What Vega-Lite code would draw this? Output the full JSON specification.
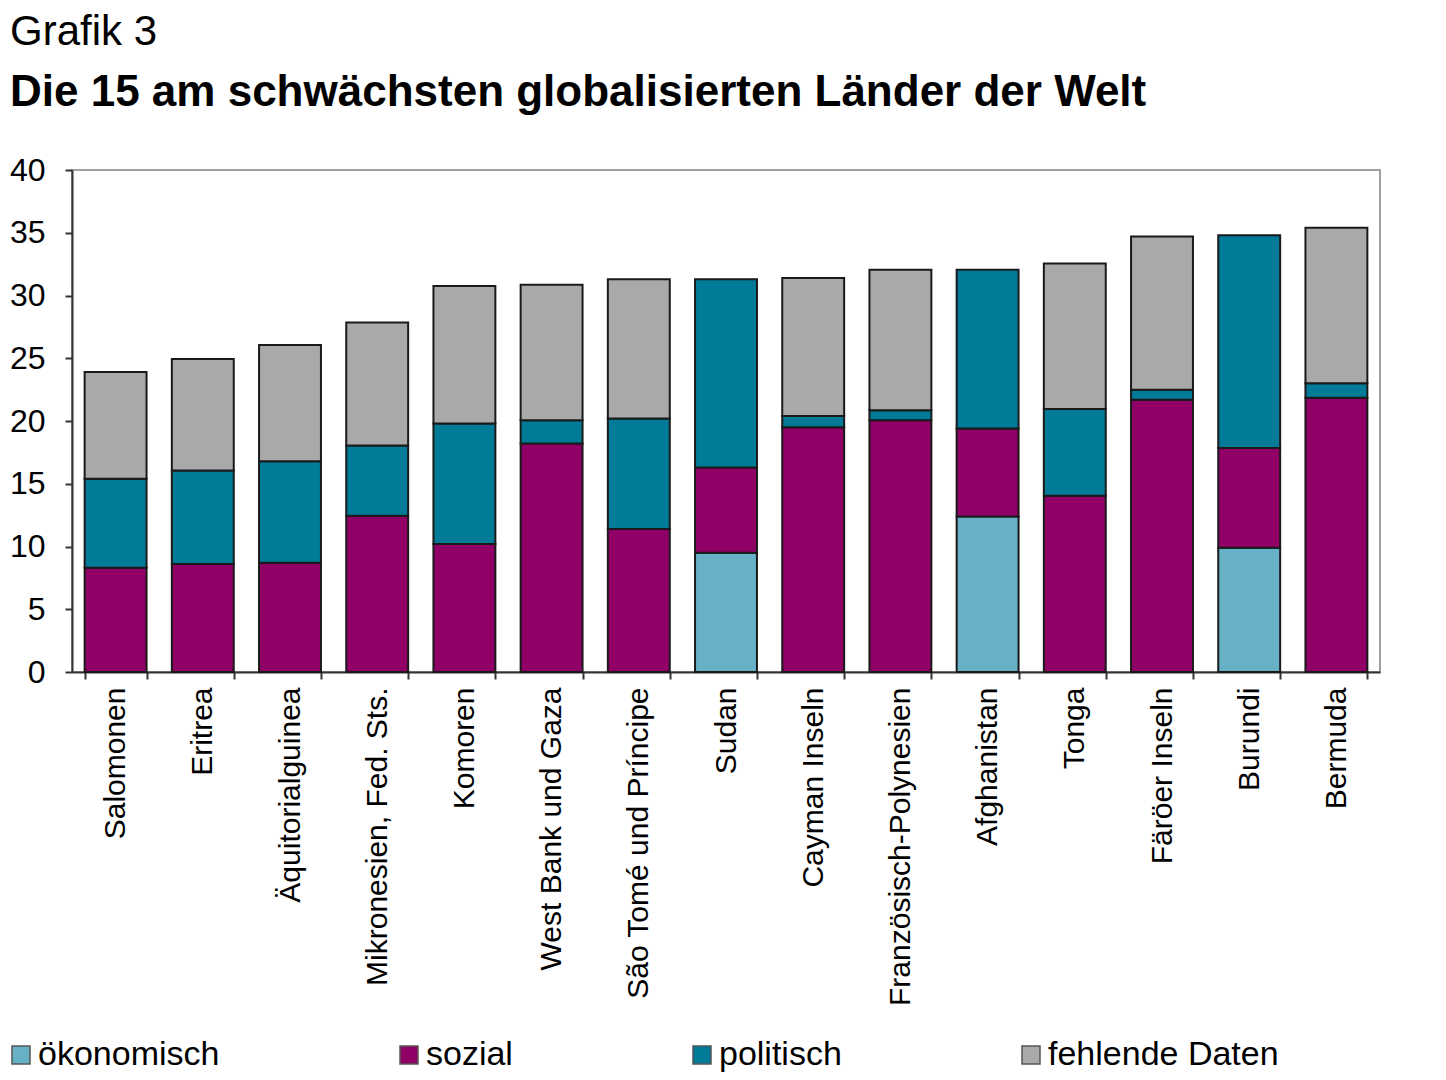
{
  "$schema": "https://vega.github.io/schema/vega-lite/v6.json",
  "width": 1308,
  "height": 502,
  "autosize": "none",
  "padding": {"left": 72, "top": 170, "right": 66, "bottom": 408},
  "background": "white",
  "title": {
    "text": "Grafik 3",
    "subtitle": "Die 15 am schwächsten globalisierten Länder der Welt",
    "anchor": "start",
    "frame": "group",
    "dx": -62,
    "font": "Liberation Sans",
    "fontSize": 42,
    "fontWeight": "normal",
    "color": "#000000",
    "subtitleFont": "Liberation Sans",
    "subtitleFontSize": 44,
    "subtitleFontWeight": "bold",
    "subtitleColor": "#000000",
    "subtitlePadding": 17,
    "offset": 38
  },
  "config": {
    "view": {"stroke": "#a0a0a0", "strokeWidth": 2},
    "font": "Liberation Sans"
  },
  "data": {
    "values": [
      {"land": "Salomonen", "kategorie": "sozial", "wert": 8.3},
      {"land": "Salomonen", "kategorie": "politisch", "wert": 7.1},
      {"land": "Salomonen", "kategorie": "fehlende Daten", "wert": 8.5},
      {"land": "Eritrea", "kategorie": "sozial", "wert": 8.6},
      {"land": "Eritrea", "kategorie": "politisch", "wert": 7.45},
      {"land": "Eritrea", "kategorie": "fehlende Daten", "wert": 8.9},
      {"land": "Äquitorialguinea", "kategorie": "sozial", "wert": 8.7},
      {"land": "Äquitorialguinea", "kategorie": "politisch", "wert": 8.1},
      {"land": "Äquitorialguinea", "kategorie": "fehlende Daten", "wert": 9.25},
      {"land": "Mikronesien, Fed. Sts.", "kategorie": "sozial", "wert": 12.45},
      {"land": "Mikronesien, Fed. Sts.", "kategorie": "politisch", "wert": 5.6},
      {"land": "Mikronesien, Fed. Sts.", "kategorie": "fehlende Daten", "wert": 9.8},
      {"land": "Komoren", "kategorie": "sozial", "wert": 10.2},
      {"land": "Komoren", "kategorie": "politisch", "wert": 9.6},
      {"land": "Komoren", "kategorie": "fehlende Daten", "wert": 10.95},
      {"land": "West Bank und Gaza", "kategorie": "sozial", "wert": 18.2},
      {"land": "West Bank und Gaza", "kategorie": "politisch", "wert": 1.85},
      {"land": "West Bank und Gaza", "kategorie": "fehlende Daten", "wert": 10.8},
      {"land": "São Tomé und Príncipe", "kategorie": "sozial", "wert": 11.4},
      {"land": "São Tomé und Príncipe", "kategorie": "politisch", "wert": 8.8},
      {"land": "São Tomé und Príncipe", "kategorie": "fehlende Daten", "wert": 11.1},
      {"land": "Sudan", "kategorie": "ökonomisch", "wert": 9.5},
      {"land": "Sudan", "kategorie": "sozial", "wert": 6.8},
      {"land": "Sudan", "kategorie": "politisch", "wert": 15.0},
      {"land": "Cayman Inseln", "kategorie": "sozial", "wert": 19.5},
      {"land": "Cayman Inseln", "kategorie": "politisch", "wert": 0.9},
      {"land": "Cayman Inseln", "kategorie": "fehlende Daten", "wert": 11.0},
      {"land": "Französisch-Polynesien", "kategorie": "sozial", "wert": 20.05},
      {"land": "Französisch-Polynesien", "kategorie": "politisch", "wert": 0.8},
      {"land": "Französisch-Polynesien", "kategorie": "fehlende Daten", "wert": 11.2},
      {"land": "Afghanistan", "kategorie": "ökonomisch", "wert": 12.4},
      {"land": "Afghanistan", "kategorie": "sozial", "wert": 7.0},
      {"land": "Afghanistan", "kategorie": "politisch", "wert": 12.65},
      {"land": "Tonga", "kategorie": "sozial", "wert": 14.05},
      {"land": "Tonga", "kategorie": "politisch", "wert": 6.9},
      {"land": "Tonga", "kategorie": "fehlende Daten", "wert": 11.6},
      {"land": "Färöer Inseln", "kategorie": "sozial", "wert": 21.7},
      {"land": "Färöer Inseln", "kategorie": "politisch", "wert": 0.8},
      {"land": "Färöer Inseln", "kategorie": "fehlende Daten", "wert": 12.2},
      {"land": "Burundi", "kategorie": "ökonomisch", "wert": 9.9},
      {"land": "Burundi", "kategorie": "sozial", "wert": 7.95},
      {"land": "Burundi", "kategorie": "politisch", "wert": 16.95},
      {"land": "Bermuda", "kategorie": "sozial", "wert": 21.85},
      {"land": "Bermuda", "kategorie": "politisch", "wert": 1.15},
      {"land": "Bermuda", "kategorie": "fehlende Daten", "wert": 12.4}
    ]
  },
  "mark": {"type": "bar", "stroke": "#1a1a1a", "strokeWidth": 2},
  "encoding": {
    "x": {
      "field": "land",
      "type": "nominal",
      "sort": null,
      "scale": {"paddingInner": 0.29, "paddingOuter": 0.145},
      "axis": {
        "title": null,
        "labelAngle": -90,
        "labelFontSize": 30,
        "labelColor": "#000000",
        "labelLimit": 600,
        "labelPadding": 8,
        "tickBand": "extent",
        "tickSize": 7,
        "tickColor": "#333333",
        "tickWidth": 2,
        "domainColor": "#333333",
        "domainWidth": 2
      }
    },
    "y": {
      "field": "wert",
      "type": "quantitative",
      "stack": "zero",
      "scale": {"domain": [0, 40], "nice": false},
      "axis": {
        "title": null,
        "values": [0, 5, 10, 15, 20, 25, 30, 35, 40],
        "grid": false,
        "labelFontSize": 32,
        "labelColor": "#000000",
        "labelPadding": 20,
        "tickSize": 7,
        "tickColor": "#333333",
        "tickWidth": 2,
        "domainColor": "#333333",
        "domainWidth": 2
      }
    },
    "color": {
      "field": "kategorie",
      "type": "nominal",
      "sort": ["ökonomisch", "sozial", "politisch", "fehlende Daten"],
      "scale": {
        "domain": ["ökonomisch", "sozial", "politisch", "fehlende Daten"],
        "range": ["#66b1c5", "#900066", "#017b97", "#a9a9a9"]
      },
      "legend": {
        "title": null,
        "orient": "none",
        "legendX": -68,
        "legendY": 868,
        "direction": "horizontal",
        "symbolType": "square",
        "symbolSize": 324,
        "symbolStrokeWidth": 1.5,
        "symbolStrokeColor": "#555555",
        "labelFontSize": 34,
        "labelColor": "#000000",
        "labelOffset": 0,
        "columnPadding": 172,
        "labelLimit": 400
      }
    }
  }
}
